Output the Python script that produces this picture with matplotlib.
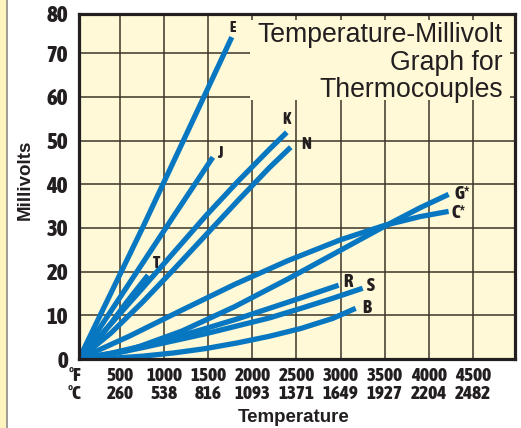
import matplotlib
matplotlib.use('Agg')
import matplotlib.pyplot as plt
from matplotlib.patches import Rectangle
from matplotlib.lines import Line2D
from matplotlib import font_manager as fm

# ---------------- data ----------------
f_ticks = [500, 1000, 1500, 2000, 2500, 3000, 3500, 4000, 4500]
c_ticks = [260, 538, 816, 1093, 1371, 1649, 1927, 2204, 2482]
mv_ticks = [0, 10, 20, 30, 40, 50, 60, 70, 80]

E_F = [32, 752, 1112, 1472, 1766]
E_mV = [0, 30.0, 45.5, 61.0, 73.7]
J_F = [32, 392, 752, 1112, 1551]
J_mV = [0, 10.9, 21.9, 32.9, 46.2]
T_F = [32, 212, 392, 572, 815]
T_mV = [0, 3.7, 8.1, 13.0, 19.2]
K_F = [32, 392, 752, 1112, 1472, 1832, 2192, 2390]
K_mV = [0, 8.0, 16.2, 24.5, 32.8, 40.6, 48.0, 51.9]
N_F = [32, 392, 752, 1112, 1472, 1832, 2192, 2435]
N_mV = [0, 5.9, 13.0, 20.6, 28.4, 36.2, 43.8, 48.5]
G_F = [32, 600, 1200, 1800, 2400, 3000, 3500, 3900, 4227]
G_mV = [0, 2.0, 6.4, 12.0, 18.3, 24.9, 30.4, 34.6, 37.7]
C_F = [32, 600, 1200, 1800, 2400, 3000, 3500, 3900, 4227]
C_mV = [0, 5.2, 11.2, 17.1, 22.5, 27.3, 30.6, 32.6, 33.8]
R_F = [32, 392, 752, 1112, 1472, 1832, 2192, 2552, 2979]
R_mV = [0, 1.3, 3.0, 4.9, 7.0, 9.2, 11.6, 14.0, 16.9]
S_F = [32, 392, 752, 1112, 1472, 1832, 2192, 2552, 2912, 3251]
S_mV = [0, 1.1, 2.6, 4.2, 5.8, 7.6, 9.4, 11.6, 13.9, 16.2]
B_F = [32, 392, 752, 1112, 1472, 1832, 2192, 2552, 2912, 3172]
B_mV = [0, 0.15, 0.65, 1.4, 2.4, 3.7, 5.2, 7.0, 9.3, 11.6]

labels = ['E', 'J', 'T', 'K', 'N', 'G*', 'C*', 'R', 'S', 'B']

W, H = 521, 428
BLUE = '#0877C1'
CREAM = '#FFF9D7'
INK = '#231f20'
SANS = ['Liberation Sans', 'DejaVu Sans']


def _w(v):
    try:
        return int(v)
    except (TypeError, ValueError):
        return {'bold': 700, 'semibold': 600, 'demibold': 600, 'heavy': 800,
                'black': 900, 'extra bold': 800}.get(str(v).lower(), 400)


# look for a condensed/narrow bold face, like the chart's Helvetica Condensed Bold
cond = None
best = -1
for f in fm.fontManager.ttflist:
    key = (f.name + ' ' + f.fname).lower()
    is_cond = ('narrow' in key or 'condensed' in key or 'cond' in key
               or str(f.stretch) in ('condensed', 'semi-condensed', 'extra-condensed'))
    if is_cond and f.style == 'normal':
        score = _w(f.weight)
        if 600 <= score <= 800 and score > best:
            best, cond = score, f.fname


def nfont(size, fallback):
    if cond:
        return dict(fontproperties=fm.FontProperties(fname=cond, size=size))
    return dict(fontfamily=SANS, fontweight='bold', fontsize=fallback)


fig = plt.figure(figsize=(W / 100, H / 100), dpi=100, facecolor='white')
ax = fig.add_axes([79 / W, 1 - 359 / H, 436 / W, 345 / H])
ax.set_facecolor(CREAM)

ytop = 79.0
ax.set_xlim(32, 4980)
ax.set_ylim(0, ytop)

ax.set_xticks(f_ticks)
ax.set_xticklabels([f"{f}\n{c}" for f, c in zip(f_ticks, c_ticks)],
                   color=INK, linespacing=1.0, **nfont(13.8, 10.5))
ax.set_yticks(mv_ticks[:-1] + [ytop])
ax.set_yticklabels([str(v) for v in mv_ticks], color=INK, **nfont(16.5, 13.5))
ax.tick_params(axis='both', length=0)
ax.tick_params(axis='x', pad=6)
ax.tick_params(axis='y', pad=8)

ax.grid(True, color='#3b3628', lw=1.1, zorder=1)
ax.set_axisbelow(True)
for sp in ax.spines.values():
    sp.set_linewidth(2.3)
    sp.set_color(INK)
    sp.set_zorder(5)

ax.add_patch(Rectangle((0.392, 0.752), 0.597, 0.231, transform=ax.transAxes,
                       facecolor=CREAM, edgecolor='none', zorder=2))
ax.text(0.972, 0.976, "Temperature-Millivolt\nGraph for\nThermocouples",
        transform=ax.transAxes, ha='right', va='top', fontsize=19.2,
        fontfamily=SANS, color=INK, linespacing=1.08, zorder=3)

series = [(E_F, E_mV), (J_F, J_mV), (T_F, T_mV), (K_F, K_mV), (N_F, N_mV),
          (G_F, G_mV), (C_F, C_mV), (R_F, R_mV), (S_F, S_mV), (B_F, B_mV)]
offsets = {'E': (0.5, 6.5, 'center'), 'J': (5, 3, 'center'), 'T': (6, 9, 'center'),
           'K': (0, 9.5, 'center'), 'N': (11, 2, 'center'), 'G*': (4, 0, 'left'),
           'C*': (2, -1.5, 'left'), 'R': (3, 2, 'left'), 'S': (3, 1.5, 'left'),
           'B': (5, 0, 'left')}
sizes = {'E': (10.5, 8.5), 'J': (12, 9.5), 'T': (12, 9.5), 'K': (12, 9.5), 'N': (12, 9.5)}
for lab, (xs, ys) in zip(labels, series):
    ax.plot(xs, ys, color=BLUE, lw=3.8, solid_capstyle='butt',
            solid_joinstyle='round', zorder=4)
    dx, dy, ha = offsets[lab]
    s1, s2 = sizes.get(lab, (13.5, 10.5))
    ax.annotate(lab, xy=(xs[-1], ys[-1]), xytext=(dx, dy),
                textcoords='offset points', ha=ha, va='center',
                color=INK, zorder=6, **nfont(s1, s2))

ax.annotate("°F\n°C", xy=(0, 0), xycoords='axes fraction', xytext=(-3, -6),
            textcoords='offset points', ha='center', va='top',
            color=INK, linespacing=1.0, **nfont(13.8, 10.5))

fig.text(294 / W, 1 - 418 / H, "Temperature", ha='center', va='center',
         fontsize=13.5, fontweight='bold', fontfamily=SANS, color=INK)
fig.text(25 / W, 1 - 180 / H, "Millivolts", ha='center', va='center',
         rotation=90, fontsize=13.5, fontweight='bold', fontfamily=SANS,
         color=INK)

fig.patches.append(Rectangle((0, 0), 6 / W, 1, transform=fig.transFigure,
                             facecolor='#FFF4BE', edgecolor='none'))
fig.lines.append(Line2D([7 / W, 7 / W], [0, 1], transform=fig.transFigure,
                        color='#8c8a80', lw=1.2))

fig.savefig('out.png', dpi=100, facecolor='white')
